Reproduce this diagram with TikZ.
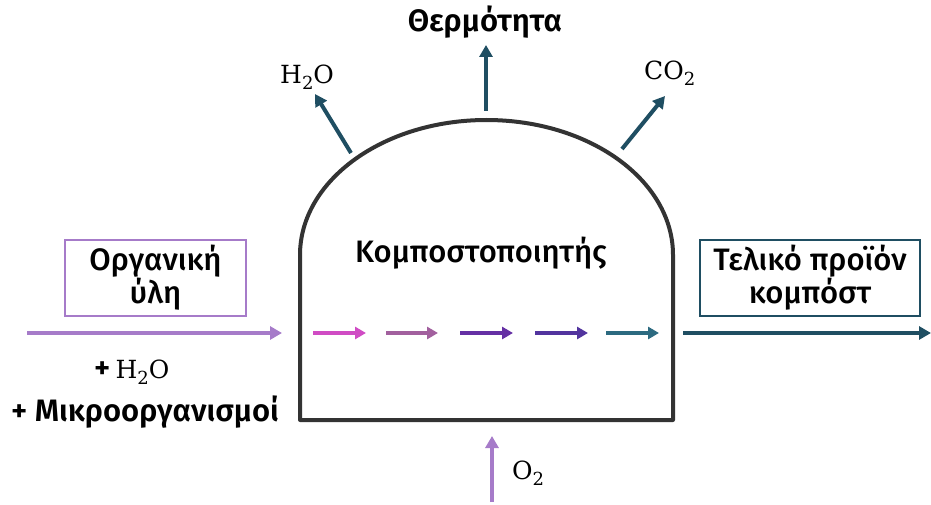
\documentclass[tikz,border=0pt]{standalone}
\usepackage[no-math]{fontspec}
\setmainfont{Fira Sans}[UprightFont=* Medium,BoldFont=* SemiBold]
\newfontfamily\chemfont{DejaVu Serif}
\newcommand{\csub}[1]{\raisebox{-6pt}{\fontsize{18}{18}\selectfont #1}}
\usetikzlibrary{arrows.meta}
\definecolor{dteal}{HTML}{1F4E62}
\definecolor{lpurple}{HTML}{A67BC9}
\definecolor{dgray}{HTML}{333333}
\definecolor{colA}{HTML}{D04CC4}
\definecolor{colB}{HTML}{A2609E}
\definecolor{colC}{HTML}{6530A4}
\definecolor{colD}{HTML}{52349E}
\definecolor{colE}{HTML}{2C6A80}
\begin{document}
\begin{tikzpicture}[x=1pt,y=1pt,
  flow/.style={line width=4pt,-{Triangle[length=12pt,width=13pt]}},
  innerarr/.style={line width=3.5pt,-{Triangle[length=11pt,width=12pt]}},
  lbl/.style={font=\fontsize{31}{33}\selectfont},
  chem/.style={font=\chemfont\fontsize{25}{28}\selectfont},
  boxnode/.style={line width=1.5pt,minimum height=76pt,align=center,font=\fontsize{31}{33}\selectfont}]
\useasboundingbox (0,0) rectangle (931,-505);
% dome
\coordinate (bl) at (300,-420);
\coordinate (br) at (673,-420);
\draw[dgray,line width=4pt,line join=round] (bl) -- (300,-255) arc[start angle=180,end angle=0,x radius=186.5,y radius=135] -- (br) -- cycle;
\node[lbl] (title) at (481,-253) {Κομποστοποιητής};
% left input
\node[boxnode,draw=lpurple,minimum width=181pt] (org) at (155.5,-278) {Οργανική\\ύλη};
\coordinate (ls) at (27,-333);
\coordinate (le) at (282,-333);
\draw[flow,lpurple] (ls) -- (le);
\node[lbl,font=\fontsize{31}{33}\selectfont\bfseries,anchor=base west,inner sep=0pt] (h2oin) at (94,-378) {+\,{\chemfont\mdseries\fontsize{25}{28}\selectfont H\csub{2}O}};
\node[lbl,font=\fontsize{31}{33}\selectfont\bfseries] (micro) at (145,-412) {+ Μικροοργανισμοί};
% right output
\node[boxnode,draw=dteal,minimum width=220pt] (comp) at (810,-278) {Τελικό προϊόν\\κομπόστ};
\coordinate (rs) at (683,-333);
\coordinate (re) at (931,-333);
\draw[flow,dteal] (rs) -- (re);
% inner arrows
\coordinate (a1) at (313,-333); \coordinate (b1) at (366,-333);
\coordinate (a2) at (386,-333); \coordinate (b2) at (438,-333);
\coordinate (a3) at (460,-333); \coordinate (b3) at (513,-333);
\coordinate (a4) at (535,-333); \coordinate (b4) at (588,-333);
\coordinate (a5) at (606,-333); \coordinate (b5) at (659,-333);
\draw[innerarr,colA] (a1) -- (b1);
\draw[innerarr,colB] (a2) -- (b2);
\draw[innerarr,colC] (a3) -- (b3);
\draw[innerarr,colD] (a4) -- (b4);
\draw[innerarr,colE] (a5) -- (b5);
% top outputs
\node[chem,anchor=base west,inner sep=0pt] (h2o) at (280,-84) {H\csub{2}O};
\coordinate (h2os) at (351,-153);
\coordinate (h2oe) at (315,-94);
\draw[flow,dteal] (h2os) -- (h2oe);
\node[lbl,font=\fontsize{31}{33}\selectfont\bfseries] (heat) at (485,-22) {Θερμότητα};
\coordinate (hs) at (486,-111);
\coordinate (he) at (486,-45);
\draw[flow,dteal] (hs) -- (he);
\node[chem,anchor=base west,inner sep=0pt] (co2) at (644,-80) {CO\csub{2}};
\coordinate (cs) at (622,-149);
\coordinate (ce) at (665,-96);
\draw[flow,dteal] (cs) -- (ce);
% bottom O2
\coordinate (os) at (492,-502);
\coordinate (oe) at (492,-436);
\draw[flow,lpurple] (os) -- (oe);
\node[chem,anchor=base west,inner sep=0pt] (o2) at (512,-479) {O\csub{2}};
\end{tikzpicture}
\end{document}
